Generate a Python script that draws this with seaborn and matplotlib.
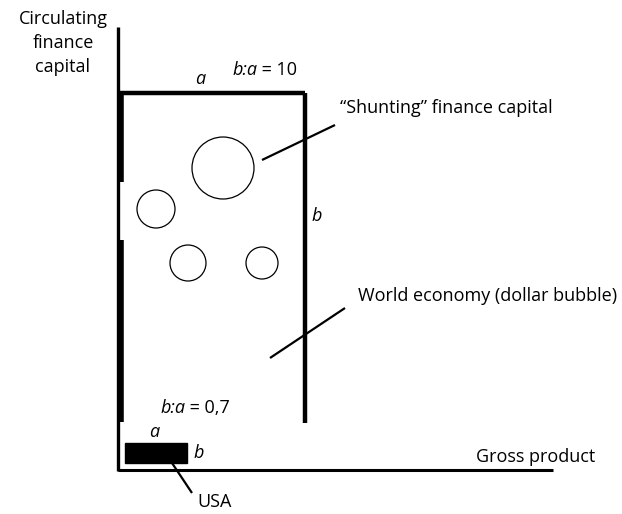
import matplotlib
matplotlib.use("Agg")
import matplotlib.pyplot as plt
import matplotlib.patches as mpatches
import seaborn as sns

# diagram elements in pixel coordinates (origin top-left)
axis_y = [(118, 27), (118, 471)]
axis_x = [(118, 470), (553, 470)]
box_top = [(120, 93), (305, 93)]
box_right = [(305, 93), (305, 423)]
box_left_upper = [(121, 93), (121, 182)]
box_left_lower = [(121, 240), (121, 422)]
shunting_line = [(262, 160), (335, 125)]
world_line = [(270, 358), (345, 308)]
usa_line = [(172, 463), (192, 493)]

# circles: (x, y, radius)
circle_x = [223, 156, 188, 262]
circle_y = [168, 209, 263, 263]
circle_r = [31, 19, 18, 16]

# USA block: x, y, width, height
usa_box = (125, 443, 62, 20)

labels = [
    ("Circulating\nfinance\ncapital", 63, 43, "normal"),
    ("a", 200, 79, "italic"),
    ("\u201cShunting\u201d finance capital", 446, 108, "normal"),
    ("b", 317, 216, "italic"),
    ("World economy (dollar bubble)", 488, 296, "normal"),
    ("a", 154, 432, "italic"),
    ("b", 199, 453, "italic"),
    ("Gross product", 536, 457, "normal"),
    ("USA", 215, 502, "normal"),
]

# ratio labels: (left x, y, value)
ratio_x = [232, 160]
ratio_y = [70, 408]
ratio_val = ["10", "0,7"]

FS = 13

sns.set_style("white")
plt.rcParams['font.family'] = ['Open Sans', 'DejaVu Sans']
plt.rcParams['text.color'] = 'black'

fig = plt.figure(figsize=(6.22, 5.14), dpi=100)
ax = fig.add_axes([0, 0, 1, 1])
ax.set_xlim(0, 622)
ax.set_ylim(514, 0)
ax.axis("off")

def seg(pts, lw):
    ax.plot([p[0] for p in pts], [p[1] for p in pts], color="black", lw=lw,
            solid_capstyle="butt")

seg(axis_y, 2.4)
seg(axis_x, 2.2)
seg(box_top, 3.2)
seg(box_right, 3.2)
seg(box_left_upper, 4.0)
seg(box_left_lower, 4.0)
seg(shunting_line, 1.6)
seg(world_line, 1.6)
seg(usa_line, 1.6)

for cx, cy, r in zip(circle_x, circle_y, circle_r):
    ax.add_patch(mpatches.Circle((cx, cy), r, fill=False, ec="black", lw=0.9))

ax.add_patch(mpatches.Rectangle((usa_box[0], usa_box[1]), usa_box[2], usa_box[3],
                                color="black"))

for txt, x, y, style in labels:
    ax.text(x, y, txt, fontsize=FS, style=style, ha="center", va="center",
            color="black", linespacing=1.42)

for x, y, v in zip(ratio_x, ratio_y, ratio_val):
    t1 = ax.text(x, y, "b:a", fontsize=FS, style="italic", ha="left",
                 va="center", color="black")
    ax.annotate(" = " + v, xy=(1, 0), xycoords=t1, fontsize=FS,
                ha="left", va="bottom", color="black")

fig.savefig("out.png", dpi=100)
